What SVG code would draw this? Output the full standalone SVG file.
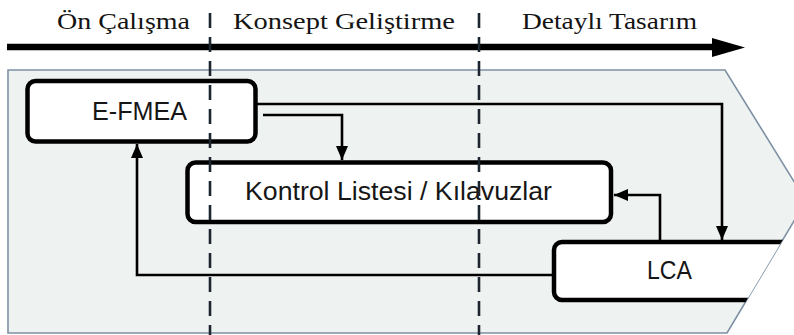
<svg xmlns="http://www.w3.org/2000/svg" width="794" height="335" viewBox="0 0 794 335">
  <style>
    .phase { font-family: "Liberation Serif", "Times New Roman", serif; font-size: 23px; fill: #141414; }
    .label { font-family: "Liberation Sans", Arial, sans-serif; fill: #161616; text-anchor: start; }
    .box { fill: #ffffff; stroke: #000000; stroke-width: 4.5; }
    .link { fill: none; stroke: #000000; stroke-width: 2.6; marker-end: url(#head); }
    .divider { stroke: #1c2530; stroke-width: 2.6; stroke-dasharray: 15 9; }
  </style>
  <defs>
    <marker id="head" markerUnits="userSpaceOnUse" markerWidth="16" markerHeight="14" refX="14" refY="6" orient="auto">
      <path d="M0,0 L14,6 L0,12 Z" fill="#000000"/>
    </marker>
    <clipPath id="panelClip">
      <polygon points="8,70 725,70 806,201 727,333 8,333"/>
    </clipPath>
  </defs>

  <rect width="794" height="335" fill="#ffffff"/>

  <!-- phase timeline -->
  <g id="timeline">
    <line x1="7" y1="47" x2="716" y2="47" stroke="#000000" stroke-width="6.5"/>
    <polygon points="712,38 745,47.5 712,57" fill="#000000"/>
    <text class="phase" x="57" y="29" textLength="133" lengthAdjust="spacingAndGlyphs">Ön Çalışma</text>
    <text class="phase" x="233" y="29" textLength="222" lengthAdjust="spacingAndGlyphs">Konsept Geliştirme</text>
    <text class="phase" x="522" y="29" textLength="175" lengthAdjust="spacingAndGlyphs">Detaylı Tasarım</text>
  </g>

  <!-- process chevron -->
  <g id="panel">
    <polygon points="8,70 725,70 806,201 727,333 8,333" fill="#eef2f0" stroke="#7d90a4" stroke-width="1.6"/>
  </g>

  <!-- nodes -->
  <g id="efmea">
    <rect class="box" x="27.5" y="81" width="228" height="60.5" rx="8"/>
    <text class="label" x="92" y="120" font-size="25" textLength="95" lengthAdjust="spacingAndGlyphs">E-FMEA</text>
  </g>

  <g id="kontrol">
    <rect class="box" x="187.5" y="162.5" width="423.5" height="59.5" rx="8"/>
    <text class="label" x="245" y="200" font-size="25" textLength="307" lengthAdjust="spacingAndGlyphs">Kontrol Listesi / Kılavuzlar</text>
  </g>

  <g id="lca">
    <g clip-path="url(#panelClip)">
      <rect class="box" x="554" y="242" width="280" height="58" rx="8"/>
    </g>
    <text class="label" x="647" y="279" font-size="25" textLength="45" lengthAdjust="spacingAndGlyphs">LCA</text>
  </g>

  <!-- connectors -->
  <g id="connectors">
    <path class="link" d="M257,104 H722 V240"/>
    <path class="link" d="M263,115 H342 V160"/>
    <path class="link" d="M660,240 V195 H614"/>
    <path class="link" d="M552,275 H137 V144"/>
  </g>

  <!-- phase boundaries -->
  <g id="dividers">
    <line class="divider" x1="210" y1="13" x2="210" y2="335"/>
    <line class="divider" x1="479" y1="13" x2="479" y2="335"/>
  </g>
</svg>
